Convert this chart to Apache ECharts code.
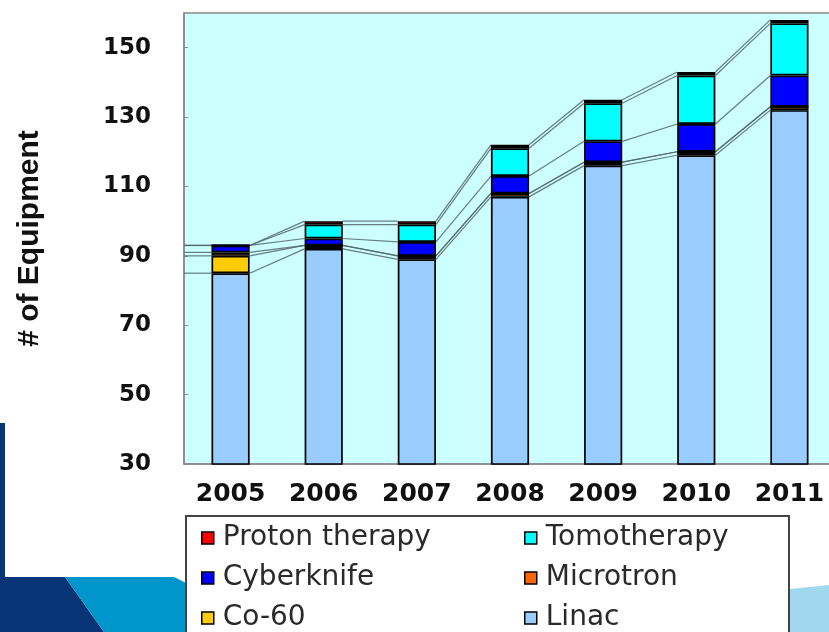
<!DOCTYPE html>
<html>
<head>
<meta charset="utf-8">
<script src="https://cdn.jsdelivr.net/npm/echarts@6/dist/echarts.min.js"></script>
<style>
  html, body { margin: 0; padding: 0; background: #fff; }
  #main { width: 829px; height: 632px; }
</style>
</head>
<body>
<div id="main"></div>
<script>
// data (units: number of machines)
var years = ['2005', '2006', '2007', '2008', '2009', '2010', '2011'];
var linac = [85, 92, 89, 107, 116, 119, 132];
var co60 = [5, 1, 1, 1, 1, 1, 1];
var microtron = [1, 0, 0, 0, 0, 0, 0];
var cyberknife = [2, 2, 4, 5, 6, 8, 9];
var tomotherapy = [0, 4, 5, 8, 11, 14, 15];
var proton = [0, 1, 1, 1, 1, 1, 1];
var yTicks = [30, 50, 70, 90, 110, 130, 150];

var stackOrder = [linac, co60, microtron, cyberknife, tomotherapy, proton];
var barRatio = 0.41;

// running totals for year i, one per stacked series
function stackTops(i) {
    var out = [], sum = 0;
    stackOrder.forEach(function (arr) {
        sum += arr[i];
        out.push(sum);
    });
    return out;
}

// excel-like "series lines" joining the top of each segment between columns
function seriesLines(params, api) {
    var i = params.dataIndex;
    var half = api.size([1, 0])[0] * barRatio / 2;
    var tops = stackTops(i);
    var kids = [];
    var lineStyle = {stroke: '#55666a', lineWidth: 1.2, opacity: 0.85};
    tops.forEach(function (v, k) {
        var p = api.coord([i, v]);
        if (i === 0) {
            kids.push({type: 'line', shape: {x1: params.coordSys.x, y1: p[1], x2: p[0] - half, y2: p[1]}, style: lineStyle});
        }
        if (i < years.length - 1) {
            var q = api.coord([i + 1, stackTops(i + 1)[k]]);
            kids.push({type: 'line', shape: {x1: p[0] + half, y1: p[1], x2: q[0] - half, y2: q[1]}, style: lineStyle});
        }
    });
    return {type: 'group', children: kids};
}

function bar(name, data, color) {
    return {
        name: name,
        type: 'bar',
        stack: 'total',
        barWidth: (barRatio * 100) + '%',
        data: data,
        z: 3,
        itemStyle: {color: color, borderColor: '#000', borderWidth: 1.7}
    };
}

// one legend per entry so the 2x3 layout is fixed
function legendItem(name, left, top) {
    return {
        left: left, top: top,
        itemWidth: 12, itemHeight: 12,
        icon: 'rect',
        itemStyle: {borderColor: '#000', borderWidth: 1.5},
        textStyle: {fontFamily: 'DejaVu Sans', fontSize: 28, color: '#2a2a2a', padding: [0, 0, 0, 4]},
        data: [name]
    };
}

var myChart = echarts.init(document.getElementById('main'), null, {renderer: 'canvas'});
var option = {
    backgroundColor: '#fff',
    animation: false,
    grid: {
        left: 184, top: 13, right: -7, bottom: 168,
        outerBoundsMode: 'none',
        containLabel: false,
        show: true, backgroundColor: '#ccffff', borderColor: '#8a8a8a', borderWidth: 1.5
    },
    xAxis: {
        type: 'category',
        data: years,
        axisLine: {lineStyle: {color: '#8a8a8a', width: 1.5}},
        axisTick: {inside: true, length: 5, lineStyle: {color: '#8a8a8a'}},
        axisLabel: {margin: 18, fontFamily: 'DejaVu Sans', fontWeight: 'bold', fontSize: 25, color: '#111'}
    },
    yAxis: {
        type: 'value',
        min: 30,
        max: 160,
        interval: 10,
        name: '# of Equipment',
        nameLocation: 'middle',
        nameGap: 139,
        nameTextStyle: {fontFamily: 'Liberation Sans', fontWeight: 'bold', fontSize: 30, color: '#111'},
        splitLine: {show: false},
        axisLine: {show: true, lineStyle: {color: '#8a8a8a', width: 1.5}},
        axisTick: {show: true, inside: true, length: 4, customValues: yTicks, lineStyle: {color: '#8a8a8a'}},
        axisLabel: {margin: 33, customValues: yTicks, fontFamily: 'DejaVu Sans', fontWeight: 'bold', fontSize: 23, color: '#111'}
    },
    legend: [
        legendItem('Proton therapy', 196, 519),
        legendItem('Tomotherapy', 519, 519),
        legendItem('Cyberknife', 196, 559),
        legendItem('Microtron', 519, 559),
        legendItem('Co-60', 196, 599),
        legendItem('Linac', 519, 599)
    ],
    graphic: [
        // slide decoration behind the chart
        {type: 'rect', z: -10, shape: {x: 0, y: 423, width: 5, height: 160}, style: {fill: '#0a3478'}},
        {type: 'polygon', z: -10, shape: {points: [[0, 577], [65, 577], [104, 632], [0, 632]]}, style: {fill: '#0a3478'}},
        {type: 'polygon', z: -10, shape: {points: [[65, 577], [174, 577], [186, 583], [186, 632], [104, 632]]}, style: {fill: '#0096cc'}},
        {type: 'polygon', z: -10, shape: {points: [[790, 589], [829, 585], [829, 632], [790, 632]]}, style: {fill: '#a0d8ef'}},
        // legend frame
        {type: 'rect', z: -5, shape: {x: 186, y: 516, width: 603, height: 130}, style: {fill: '#fff', stroke: '#444', lineWidth: 2}}
    ],
    series: [
        bar('Linac', linac, '#99ccff'),
        bar('Co-60', co60, '#ffcc00'),
        bar('Microtron', microtron, '#ff6600'),
        bar('Cyberknife', cyberknife, '#0000ff'),
        bar('Tomotherapy', tomotherapy, '#00ffff'),
        bar('Proton therapy', proton, '#ff0000'),
        {
            type: 'custom',
            name: 'lines',
            z: 2,
            silent: true,
            renderItem: seriesLines,
            data: years.map(function (y, i) { return [i, 0]; })
        }
    ]
};
myChart.setOption(option);
</script>
</body>
</html>
